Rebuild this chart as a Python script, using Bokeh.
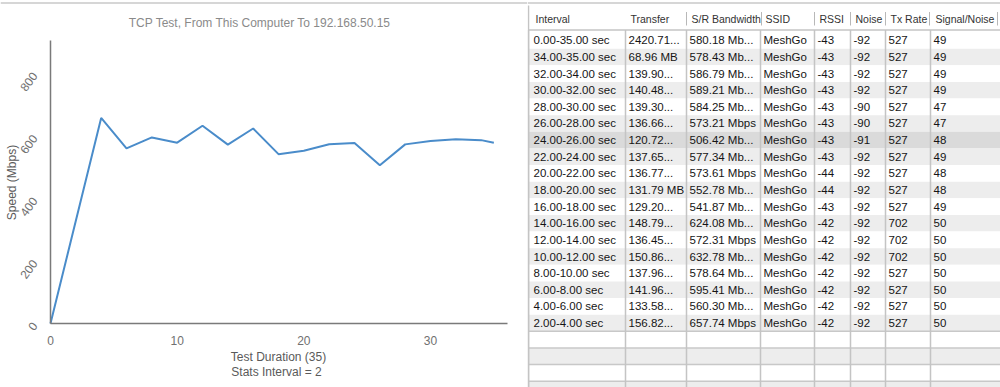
import math
from bokeh.plotting import figure
from bokeh.models import (ColumnDataSource, Range1d, SingleIntervalTicker, Label,
                          LinearAxis, Span)
from bokeh.layouts import row
from bokeh.embed import file_html
from bokeh.resources import INLINE
from bokeh.core.properties import value

# ---------------- data ----------------
title_text = "TCP Test,  From This Computer To 192.168.50.15"
x_axis_title = "Test Duration (35)"
x_axis_subtitle = "Stats Interval = 2"
y_axis_title = "Speed (Mbps)"

headers = ["Interval", "Transfer", "S/R Bandwidth", "SSID", "RSSI", "Noise", "Tx Rate", "Signal/Noise"]

intervals = ["0.00-35.00 sec", "34.00-35.00 sec", "32.00-34.00 sec", "30.00-32.00 sec",
             "28.00-30.00 sec", "26.00-28.00 sec", "24.00-26.00 sec", "22.00-24.00 sec",
             "20.00-22.00 sec", "18.00-20.00 sec", "16.00-18.00 sec", "14.00-16.00 sec",
             "12.00-14.00 sec", "10.00-12.00 sec", "8.00-10.00 sec", "6.00-8.00 sec",
             "4.00-6.00 sec", "2.00-4.00 sec"]
transfer = ["2420.71...", "68.96 MB", "139.90...", "140.48...", "139.30...", "136.66...",
            "120.72...", "137.65...", "136.77...", "131.79 MB", "129.20...", "148.79...",
            "136.45...", "150.86...", "137.96...", "141.96...", "133.58...", "156.82..."]
bandwidth = ["580.18 Mb...", "578.43 Mb...", "586.79 Mb...", "589.21 Mb...", "584.25 Mb...",
             "573.21 Mbps", "506.42 Mb...", "577.34 Mb...", "573.61 Mbps", "552.78 Mb...",
             "541.87 Mb...", "624.08 Mb...", "572.31 Mbps", "632.78 Mb...", "578.64 Mb...",
             "595.41 Mb...", "560.30 Mb...", "657.74 Mbps"]
ssid = ["MeshGo"] * 18
rssi = ["-43"] * 8 + ["-44", "-44", "-43"] + ["-42"] * 7
noise = ["-92", "-92", "-92", "-92", "-90", "-90", "-91"] + ["-92"] * 11
tx_rate = ["527"] * 11 + ["702", "702", "702"] + ["527"] * 4
signal_noise = ["49", "49", "49", "49", "47", "47", "48", "49", "48", "48", "49"] + ["50"] * 7

selected_row = 6
filler_rows = 4
start_time = 0.0
start_speed = 0.0

x_ticks_every = 10
y_ticks_every = 200
x_axis_end = 36.1
y_axis_end = 905

# chart series derived from the per-interval rows (summary row excluded)
chart_x = [start_time] + [float(s.split("-")[1].split()[0]) for s in intervals[1:]][::-1]
chart_y = [start_speed] + [float(b.split()[0]) for b in bandwidth[1:]][::-1]

# ---------------- styles / layout ----------------
FONT = "Liberation Sans"
LINE_COLOR = "#4a8cca"
AXIS_COLOR = "#7a7a7a"
TICK_COLOR = "#707070"
RULE_COLOR = "#c8c8c8"

W_CHART, W_TABLE, H = 527, 473, 387
X_PX0, X_SCALE = 50.0, 12.667      # pixel of x=0, pixels per second
Y_PX0, Y_SCALE = 323.0, 0.3125     # pixel of y=0, pixels per Mbps

# ---------------- chart ----------------
p = figure(width=W_CHART, height=H,
           x_range=Range1d(-X_PX0 / X_SCALE, (W_CHART - X_PX0) / X_SCALE),
           y_range=Range1d(-(H - Y_PX0) / Y_SCALE, Y_PX0 / Y_SCALE),
           toolbar_location=None, output_backend="svg", min_border=0,
           x_axis_type=None, y_axis_type=None)
p.outline_line_color = None
p.grid.visible = False
p.background_fill_color = "white"
p.border_fill_color = "white"

xaxis = LinearAxis(fixed_location=0, ticker=SingleIntervalTicker(interval=x_ticks_every),
                   bounds=(0, x_axis_end))
yaxis = LinearAxis(fixed_location=0, ticker=SingleIntervalTicker(interval=y_ticks_every),
                   bounds=(0, y_axis_end))
for ax in (xaxis, yaxis):
    ax.axis_line_color = AXIS_COLOR
    ax.axis_line_width = 1.5
    ax.major_tick_line_color = None
    ax.minor_tick_line_color = None
    ax.major_tick_out = 0
    ax.major_tick_in = 0
    ax.major_label_text_font = FONT
    ax.major_label_text_font_size = "12px"
    ax.major_label_text_color = TICK_COLOR
xaxis.major_label_standoff = 8
yaxis.major_label_standoff = 12
yaxis.major_label_orientation = math.radians(54)
p.add_layout(xaxis, "below")
p.add_layout(yaxis, "left")

p.line(chart_x, chart_y, line_color=LINE_COLOR, line_width=2)

# top rule of the window
p.add_layout(Span(location=(Y_PX0 - 2.5) / Y_SCALE, dimension="width",
                  line_color=RULE_COLOR, line_width=1.5))


def lab(text, px, py, color, angle=0.0):
    # px, py: pixel position from the top-left of the chart panel
    p.add_layout(Label(x=px, y=H - py, x_units="screen", y_units="screen", text=text,
                       text_font=FONT, text_font_size="12px", text_color=color,
                       text_align="center", text_baseline="middle", angle=angle))


lab(title_text, 261, 22, "#8a8a8a")
lab(x_axis_title, 278, 356, "#5a5a5a")
lab(x_axis_subtitle, 276, 371, "#5a5a5a")
lab(y_axis_title, 11, 182, "#5a5a5a", angle=math.pi / 2)

# ---------------- table ----------------
ROW_H = 16.63
ROW0_TOP = 31.5
HEADER_LINE_Y = 29.5
TABLE_LEFT = 528
TABLE_RIGHT = 1000
col_left = [528, 625, 686, 760, 814, 850, 885, 930]
head_sep = [626, 686, 761, 814, 850, 885, 929, 997]

t = figure(width=W_TABLE, height=H, x_range=Range1d(W_CHART, W_CHART + W_TABLE),
           y_range=Range1d(H, 0),
           toolbar_location=None, output_backend="svg", min_border=0,
           x_axis_type=None, y_axis_type=None)
t.outline_line_color = None
t.grid.visible = False
t.background_fill_color = "white"
t.border_fill_color = "white"

n_rows = len(intervals) + filler_rows
tops = [ROW0_TOP + i * ROW_H for i in range(n_rows)]
fills = []
for i in range(n_rows):
    if i == selected_row:
        fills.append("#dadada")
    elif i % 2 == 1:
        fills.append("#ededed")
    else:
        fills.append("#ffffff")
t.quad(left=TABLE_LEFT, right=TABLE_RIGHT, top=tops, bottom=[y + ROW_H for y in tops],
       fill_color=fills, line_color=None)

# top rule
t.add_layout(Span(location=2.5, dimension="width", line_color=RULE_COLOR, line_width=1.5))

# filler row grid lines
fy = tops[len(intervals):]
t.segment(x0=TABLE_LEFT, x1=TABLE_RIGHT, y0=fy, y1=fy, line_color="#c8c8c8", line_width=1.5)

# vertical grid lines
t.segment(x0=col_left, x1=col_left, y0=HEADER_LINE_Y, y1=H, line_color="#c4c4c4", line_width=1.5)
t.segment(x0=[TABLE_LEFT], x1=[TABLE_LEFT], y0=5, y1=H, line_color="#c4c4c4", line_width=1.5)
# header
t.segment(x0=TABLE_LEFT, x1=TABLE_RIGHT, y0=HEADER_LINE_Y, y1=HEADER_LINE_Y,
          line_color="#c4c4c4", line_width=1.5)
t.segment(x0=head_sep[1:], x1=head_sep[1:], y0=11.5, y1=25, line_color="#b8b8b8", line_width=1)

hx = [c + (7 if i == 0 else 5) for i, c in enumerate(col_left)]
t.text(x=hx, y=[18.3] * len(headers), text=headers, text_font=value(FONT),
       text_font_size="10.5px", text_color="#333333", text_align="left", text_baseline="middle")

columns = [intervals, transfer, bandwidth, ssid, rssi, noise, tx_rate, signal_noise]
xs, ys, txt = [], [], []
for ci, col in enumerate(columns):
    for ri, v in enumerate(col):
        xs.append(col_left[ci] + (5 if ci == 0 else 3))
        ys.append(tops[ri] + ROW_H / 2)
        txt.append(v)
src = ColumnDataSource(dict(x=xs, y=ys, text=txt))
t.text(x="x", y="y", text="text", source=src, text_font=value(FONT),
       text_font_size="11.5px", text_color="#151515", text_align="left", text_baseline="middle")

layout = row(p, t)
open("out.html", "w").write(file_html(layout, INLINE))
